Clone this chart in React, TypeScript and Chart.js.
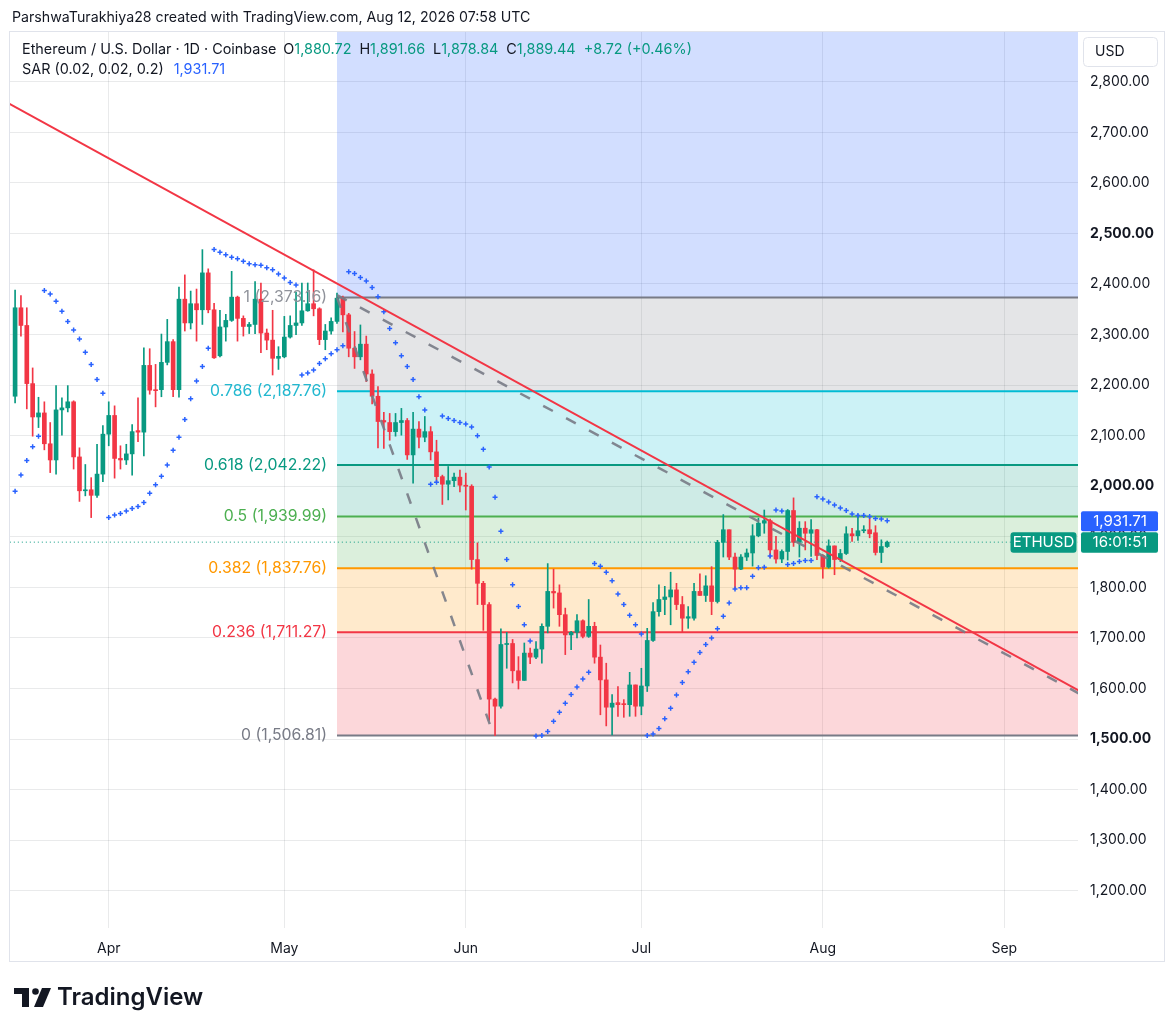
import React, { useEffect, useRef } from 'react';
import { Chart, registerables } from 'chart.js';

Chart.register(...registerables);

// ---------- data ----------
// day index 0 = 2026-03-16, one candle per day up to index 149 = 2026-08-12
const OPEN = [
  2178, 2353, 2318, 2203, 2137, 2145, 2084, 2052, 2151, 2155,
  2167, 2058, 1991, 1993, 1982, 2024, 2103, 2140, 2055, 2052,
  2064, 2110, 2107, 2239, 2191, 2191, 2245, 2286, 2191, 2370,
  2323, 2361, 2349, 2422, 2349, 2258, 2315, 2328, 2374, 2332,
  2316, 2320, 2370, 2303, 2289, 2253, 2256, 2295, 2318, 2323,
  2347, 2361, 2351, 2290, 2307, 2326, 2372, 2339, 2273, 2256,
  2281, 2222, 2178, 2130, 2126, 2108, 2126, 2130, 2062, 2113,
  2097, 2108, 2068, 2019, 2004, 2011, 2018, 2002, 2000, 1855,
  1808, 1766, 1579, 1565, 1687, 1689, 1635, 1616, 1670, 1662,
  1678, 1723, 1792, 1789, 1746, 1706, 1711, 1734, 1703, 1723,
  1662, 1617, 1563, 1572, 1570, 1568, 1607, 1565, 1605, 1695,
  1752, 1776, 1781, 1795, 1766, 1739, 1739, 1792, 1784, 1803,
  1772, 1889, 1914, 1860, 1836, 1860, 1868, 1902, 1927, 1932,
  1874, 1856, 1871, 1952, 1889, 1917, 1907, 1914, 1863, 1840,
  1882, 1855, 1867, 1906, 1902, 1912, 1914, 1908, 1869, 1880.72,
];
const HIGH = [
  2388, 2377, 2353, 2234, 2176, 2167, 2126, 2199, 2175, 2199,
  2169, 2076, 2043, 2017, 2083, 2120, 2167, 2159, 2080, 2083,
  2122, 2175, 2274, 2272, 2241, 2301, 2330, 2290, 2394, 2418,
  2386, 2390, 2468, 2430, 2362, 2348, 2340, 2425, 2376, 2337,
  2324, 2405, 2402, 2311, 2348, 2276, 2336, 2337, 2384, 2402,
  2402, 2428, 2353, 2320, 2333, 2382, 2376, 2342, 2306, 2319,
  2297, 2230, 2197, 2146, 2144, 2144, 2154, 2134, 2146, 2128,
  2138, 2118, 2091, 2022, 2039, 2026, 2032, 2026, 2003, 1888,
  1812, 1770, 1581, 1718, 1711, 1697, 1663, 1690, 1680, 1693,
  1728, 1847, 1836, 1805, 1759, 1713, 1746, 1736, 1776, 1731,
  1686, 1650, 1588, 1604, 1578, 1632, 1607, 1640, 1719, 1770,
  1805, 1802, 1830, 1808, 1782, 1762, 1808, 1827, 1823, 1841,
  1893, 1944, 1914, 1868, 1865, 1876, 1924, 1937, 1953, 1935,
  1901, 1874, 1954, 1977, 1930, 1930, 1934, 1915, 1865, 1894,
  1882, 1875, 1920, 1917, 1944, 1922, 1940, 1922, 1894, 1891.66,
];
const LOW = [
  2165, 2297, 2153, 2099, 2116, 2072, 2027, 2024, 2101, 2147,
  2034, 1970, 1981, 1938, 1978, 2009, 2080, 2016, 2034, 2043,
  2022, 2088, 2060, 2182, 2157, 2177, 2240, 2177, 2176, 2307,
  2311, 2287, 2320, 2343, 2253, 2256, 2287, 2326, 2287, 2297,
  2302, 2302, 2264, 2270, 2220, 2231, 2254, 2293, 2300, 2318,
  2346, 2337, 2280, 2270, 2301, 2322, 2305, 2256, 2233, 2250,
  2207, 2163, 2076, 2075, 2091, 2099, 2101, 2053, 2006, 2076,
  2088, 2052, 2009, 1964, 1973, 1999, 1989, 1953, 1836, 1766,
  1715, 1537, 1506.81, 1561, 1640, 1611, 1599, 1616, 1649, 1659,
  1650, 1710, 1759, 1723, 1667, 1677, 1700, 1700, 1701, 1650,
  1548, 1526, 1508, 1545, 1543, 1545, 1545, 1548, 1594, 1693,
  1743, 1746, 1726, 1756, 1711, 1719, 1735, 1784, 1772, 1746,
  1769, 1860, 1855, 1797, 1835, 1853, 1842, 1900, 1907, 1858,
  1848, 1849, 1854, 1881, 1860, 1874, 1861, 1855, 1818, 1838,
  1825, 1851, 1865, 1891, 1893, 1908, 1898, 1864, 1849, 1878.84,
];
const CLOSE = [
  2353, 2318, 2203, 2137, 2145, 2084, 2052, 2151, 2155, 2167,
  2058, 1991, 1993, 1982, 2024, 2103, 2140, 2055, 2052, 2064,
  2108, 2107, 2239, 2190, 2189, 2245, 2286, 2191, 2370, 2323,
  2361, 2349, 2422, 2349, 2254, 2315, 2328, 2374, 2332, 2316,
  2320, 2370, 2303, 2289, 2253, 2257, 2295, 2318, 2323, 2347,
  2361, 2351, 2290, 2307, 2326, 2372, 2339, 2273, 2256, 2281,
  2222, 2178, 2128, 2127, 2108, 2126, 2130, 2062, 2113, 2097,
  2108, 2068, 2019, 2004, 2011, 2018, 2002, 2000, 1855, 1808,
  1766, 1579, 1565, 1687, 1689, 1635, 1616, 1670, 1662, 1678,
  1723, 1792, 1789, 1746, 1706, 1711, 1734, 1703, 1723, 1662,
  1617, 1563, 1571, 1568, 1568, 1607, 1565, 1605, 1695, 1752,
  1776, 1781, 1795, 1766, 1739, 1742, 1792, 1784, 1803, 1772,
  1889, 1914, 1860, 1836, 1860, 1868, 1902, 1927, 1932, 1874,
  1856, 1871, 1952, 1889, 1917, 1907, 1914, 1863, 1840, 1882,
  1855, 1867, 1906, 1902, 1912, 1914, 1906, 1869, 1880.72, 1889.44,
];
// Parabolic SAR (0.02, 0.02, 0.2) dots, one per day
const SAR = [
  1990, 2022, 2051, 2078, 2099, 2387, 2380, 2366, 2346, 2326,
  2309, 2291, 2265, 2241, 2211, 2184, 1938, 1943, 1946, 1951,
  1956, 1960, 1968, 1986, 2003, 2020, 2042, 2071, 2097, 2132,
  2173, 2208, 2237, 2273, 2468, 2463, 2458, 2453, 2450, 2445,
  2440, 2438, 2437, 2432, 2428, 2420, 2412, 2403, 2398, 2220,
  2224, 2230, 2243, 2252, 2262, 2270, 2278, 2424, 2421, 2413,
  2406, 2393, 2375, 2345, 2312, 2284, 2258, 2237, 2211, 2177,
  2151, 2004, 2008, 2139, 2134, 2130, 2126, 2123, 2117, 2100,
  2073, 2038, 1978, 1911, 1855, 1805, 1762, 1726, 1694, 1506,
  1507, 1515, 1535, 1553, 1571, 1588, 1603, 1619, 1632, 1847,
  1842, 1830, 1813, 1787, 1766, 1745, 1726, 1708, 1507, 1510,
  1521, 1540, 1561, 1587, 1612, 1633, 1652, 1671, 1687, 1700,
  1718, 1743, 1769, 1797, 1799, 1799, 1822, 1839, 1840, 1862,
  1953, 1951, 1845, 1847, 1851, 1853, 1853, 1979, 1975, 1969,
  1963, 1957, 1952, 1945, 1942, 1942, 1940, 1936, 1935, 1931.71,
];

const MONTH_TICKS = [16, 46, 77, 107, 138, 169];
const MONTH_LABELS = ['Apr', 'May', 'Jun', 'Jul', 'Aug', 'Sep'];
const PRICE_TICKS = [1200, 1300, 1400, 1500, 1600, 1700, 1800, 1900, 2000, 2100, 2200, 2300, 2400, 2500, 2600, 2700, 2800];
const BOLD_TICKS = [1500, 2000, 2500];

// Fibonacci retracement drawn from the May 10 high (day 55) to the Jun 6 low (day 81.8)
const FIB_RATIOS = [1, 0.786, 0.618, 0.5, 0.382, 0.236, 0];
const FIB_PRICES = [2373.16, 2187.76, 2042.22, 1939.99, 1837.76, 1711.27, 1506.81];
const FIB_ANCHOR_X = [55, 81.8];
const FIB_LINE_COLORS = ['#787b86', '#00bcd4', '#089981', '#4caf50', '#ff9800', '#f23645', '#787b86'];
const FIB_LABEL_COLORS = ['#8f929a', '#22b8d0', '#089981', '#4caf50', '#ff9800', '#f23645', '#787b86'];
const FIB_FILL_COLORS = [
  'rgba(41, 98, 255, 0.21)',
  'rgba(120, 123, 134, 0.2)',
  'rgba(0, 188, 212, 0.2)',
  'rgba(8, 153, 129, 0.2)',
  'rgba(76, 175, 80, 0.2)',
  'rgba(255, 152, 0, 0.2)',
  'rgba(242, 54, 69, 0.2)',
];
const FIB_EXTEND_X = 190;

// trend lines (day index, price)
const RED_TREND_X = [-5, 185];
const RED_TREND_Y = [2782, 1575];
const GRAY_TREND_X = [55, 185];
const GRAY_TREND_Y = [2378, 1570];

const X_RANGE = [-0.87, 181.6];
const Y_RANGE = [1126.3, 2898.4];

const UP = '#089981';
const DOWN = '#f23645';
const SAR_COLOR = '#2962ff';
const TEXT = '#131722';
const GRID = 'rgba(42, 46, 57, 0.10)';
const FONT = "Inter, 'Noto Sans', 'DejaVu Sans', sans-serif";

const fmt = (v: number) =>
  v.toLocaleString('en-US', { minimumFractionDigits: 2, maximumFractionDigits: 2 });

function roundRect(ctx: CanvasRenderingContext2D, x: number, y: number, w: number, h: number, r: number) {
  ctx.beginPath();
  ctx.moveTo(x + r, y);
  ctx.lineTo(x + w - r, y);
  ctx.quadraticCurveTo(x + w, y, x + w, y + r);
  ctx.lineTo(x + w, y + h - r);
  ctx.quadraticCurveTo(x + w, y + h, x + w - r, y + h);
  ctx.lineTo(x + r, y + h);
  ctx.quadraticCurveTo(x, y + h, x, y + h - r);
  ctx.lineTo(x, y + r);
  ctx.quadraticCurveTo(x, y, x + r, y);
  ctx.closePath();
}

const overlayPlugin = {
  id: 'tvOverlay',
  afterDatasetsDraw(chart: any) {
    const ctx: CanvasRenderingContext2D = chart.ctx;
    const xs = chart.scales.x;
    const ys = chart.scales.y;
    ctx.save();
    ctx.font = `15.8px ${FONT}`;
    ctx.textAlign = 'right';
    ctx.textBaseline = 'middle';
    const lx = xs.getPixelForValue(FIB_ANCHOR_X[0]) - 10;
    FIB_RATIOS.forEach((r, k) => {
      ctx.fillStyle = FIB_LABEL_COLORS[k];
      ctx.fillText(`${r} (${fmt(FIB_PRICES[k])})`, lx, ys.getPixelForValue(FIB_PRICES[k]));
    });
    ctx.restore();
  },
  afterDraw(chart: any) {
    const ctx: CanvasRenderingContext2D = chart.ctx;
    const ys = chart.scales.y;
    const area = chart.chartArea;
    const n = CLOSE.length - 1;
    ctx.save();

    // frame
    ctx.strokeStyle = '#e0e3eb';
    ctx.lineWidth = 1;
    ctx.strokeRect(area.left - 0.5, area.top - 0.5, 1165 - area.left, 962 - area.top);

    // header
    ctx.textBaseline = 'middle';
    ctx.textAlign = 'left';
    ctx.font = `14.2px ${FONT}`;
    ctx.fillStyle = TEXT;
    ctx.fillText('ParshwaTurakhiya28 created with TradingView.com, Aug 12, 2026 07:58 UTC', 12, 18);

    ctx.font = `14.4px ${FONT}`;
    const change = CLOSE[n] - CLOSE[n - 1];
    const pct = (change / CLOSE[n - 1]) * 100;
    const parts: [string, string, number][] = [
      ['Ethereum / U.S. Dollar · 1D · Coinbase', TEXT, 7],
      ['O', TEXT, 0], [fmt(OPEN[n]), UP, 8],
      ['H', TEXT, 0], [fmt(HIGH[n]), UP, 8],
      ['L', TEXT, 0], [fmt(LOW[n]), UP, 8],
      ['C', TEXT, 0], [fmt(CLOSE[n]), UP, 8],
      [`+${change.toFixed(2)} (+${pct.toFixed(2)}%)`, UP, 0],
    ];
    let x = 22;
    parts.forEach(([t, c, gap]) => {
      ctx.fillStyle = c;
      ctx.fillText(t, x, 50);
      x += ctx.measureText(t).width + gap;
    });
    ctx.fillStyle = TEXT;
    const sarLabel = 'SAR (0.02, 0.02, 0.2)';
    ctx.fillText(sarLabel, 22, 70);
    ctx.fillStyle = SAR_COLOR;
    ctx.fillText(fmt(SAR[n]), 22 + ctx.measureText(sarLabel).width + 10, 70);

    // USD box
    ctx.fillStyle = '#ffffff';
    ctx.strokeStyle = '#e0e3eb';
    roundRect(ctx, 1083.5, 37.5, 74, 29, 4);
    ctx.fill();
    ctx.stroke();
    ctx.fillStyle = TEXT;
    ctx.font = `14px ${FONT}`;
    ctx.fillText('USD', 1095, 52);

    // last price label (green) + countdown
    const py = ys.getPixelForValue(CLOSE[n]);
    ctx.fillStyle = UP;
    roundRect(ctx, 1081, py - 10, 77, 20.5, 2);
    ctx.fill();
    roundRect(ctx, 1010.5, py - 10, 66, 20.5, 3);
    ctx.fill();
    ctx.fillStyle = '#ffffff';
    ctx.font = `15px ${FONT}`;
    ctx.textAlign = 'center';
    ctx.fillText('16:01:51', 1120, py + 0.5);
    ctx.fillText('ETHUSD', 1043.5, py + 0.5);

    // SAR label (blue)
    const sy = ys.getPixelForValue(SAR[n]);
    ctx.fillStyle = SAR_COLOR;
    roundRect(ctx, 1081, sy - 9.5, 77, 20, 2);
    ctx.fill();
    ctx.fillStyle = '#ffffff';
    ctx.fillText(fmt(SAR[n]), 1120, sy + 0.5);

    // TradingView logo
    ctx.fillStyle = TEXT;
    ctx.fillRect(14, 988, 15, 6);
    ctx.fillRect(22, 988, 7, 19);
    ctx.beginPath();
    ctx.arc(35.5, 991.5, 3.3, 0, Math.PI * 2);
    ctx.fill();
    ctx.beginPath();
    ctx.moveTo(42, 988);
    ctx.lineTo(51, 988);
    ctx.lineTo(43, 1007);
    ctx.lineTo(34, 1007);
    ctx.closePath();
    ctx.fill();
    ctx.textAlign = 'left';
    ctx.font = `600 24px ${FONT}`;
    ctx.fillText('TradingView', 57, 998);

    ctx.restore();
  },
};

export default function App() {
  const ref = useRef<HTMLCanvasElement>(null);

  useEffect(() => {
    const canvas = ref.current;
    if (!canvas) return;
    const colors = OPEN.map((o, i) => (CLOSE[i] >= o ? UP : DOWN));

    const fibDatasets = FIB_PRICES.map((p, k) => ({
      type: 'line' as const,
      label: `fib ${FIB_RATIOS[k]}`,
      data: [
        { x: FIB_ANCHOR_X[0], y: p },
        { x: FIB_EXTEND_X, y: p },
      ],
      borderColor: FIB_LINE_COLORS[k],
      borderWidth: 2,
      backgroundColor: FIB_FILL_COLORS[k],
      fill: k === 0 ? 'end' : '-1',
      pointRadius: 0,
      order: 10,
    }));

    const chart = new Chart(canvas, {
      type: 'bar',
      data: {
        datasets: [
          ...fibDatasets,
          {
            type: 'bar',
            label: 'wicks',
            data: OPEN.map((_, i) => ({ x: i, y: [LOW[i], HIGH[i]] })),
            backgroundColor: colors,
            barThickness: 1,
            grouped: false,
            minBarLength: 1,
            order: 4,
          },
          {
            type: 'bar',
            label: 'bodies',
            data: OPEN.map((o, i) => ({ x: i, y: [o, CLOSE[i]] })),
            backgroundColor: colors,
            barThickness: 4,
            grouped: false,
            minBarLength: 1,
            order: 3,
          },
          {
            type: 'line',
            label: 'SAR',
            data: SAR.map((v, i) => ({ x: i, y: v })),
            showLine: false,
            pointStyle: 'cross',
            pointRadius: 2.5,
            pointBorderWidth: 1.5,
            pointBorderColor: SAR_COLOR,
            pointBackgroundColor: SAR_COLOR,
            order: 2,
          },
          {
            type: 'line',
            label: 'last price',
            data: [
              { x: -5, y: CLOSE[CLOSE.length - 1] },
              { x: 185, y: CLOSE[CLOSE.length - 1] },
            ],
            borderColor: UP,
            borderWidth: 1,
            borderDash: [1, 3],
            pointRadius: 0,
            fill: false,
            order: 2,
          },
          {
            type: 'line',
            label: 'fib trend',
            data: FIB_ANCHOR_X.map((x, k) => ({ x, y: FIB_PRICES[k === 0 ? 0 : FIB_PRICES.length - 1] })),
            borderColor: 'rgba(120, 123, 134, 0.9)',
            borderWidth: 2.5,
            borderDash: [11, 15],
            pointRadius: 0,
            fill: false,
            order: 1,
          },
          {
            type: 'line',
            label: 'gray trend',
            data: GRAY_TREND_X.map((x, k) => ({ x, y: GRAY_TREND_Y[k] })),
            borderColor: 'rgba(120, 123, 134, 0.9)',
            borderWidth: 2.5,
            borderDash: [11, 15],
            pointRadius: 0,
            fill: false,
            order: 1,
          },
          {
            type: 'line',
            label: 'red trend',
            data: RED_TREND_X.map((x, k) => ({ x, y: RED_TREND_Y[k] })),
            borderColor: DOWN,
            borderWidth: 2,
            pointRadius: 0,
            fill: false,
            order: 0,
          },
        ] as any,
      },
      options: {
        responsive: false,
        maintainAspectRatio: false,
        animation: false,
        events: [],
        layout: { padding: { left: 10, top: 32, right: 0, bottom: 0 } },
        plugins: {
          legend: { display: false },
          tooltip: { enabled: false },
          filler: { drawTime: 'beforeDatasetsDraw' },
        } as any,
        scales: {
          x: {
            type: 'linear',
            min: X_RANGE[0],
            max: X_RANGE[1],
            offset: false,
            grid: { color: GRID, drawTicks: false, offset: false },
            border: { display: false },
            afterBuildTicks: (s: any) => {
              s.ticks = MONTH_TICKS.map((v) => ({ value: v }));
            },
            afterFit: (s: any) => {
              s.height = 106;
            },
            ticks: {
              autoSkip: false,
              maxRotation: 0,
              padding: 12,
              color: TEXT,
              font: { family: FONT, size: 14 },
              callback: (v: any) => {
                const k = MONTH_TICKS.indexOf(Number(v));
                return k >= 0 ? MONTH_LABELS[k] : '';
              },
            },
          },
          y: {
            type: 'linear',
            position: 'right',
            min: Y_RANGE[0],
            max: Y_RANGE[1],
            grid: { color: GRID, drawTicks: false },
            border: { display: false },
            afterBuildTicks: (s: any) => {
              s.ticks = PRICE_TICKS.map((v) => ({ value: v }));
            },
            afterFit: (s: any) => {
              s.width = 98;
            },
            ticks: {
              padding: 12,
              crossAlign: 'near',
              color: TEXT,
              font: (c: any) => ({
                family: FONT,
                size: 14,
                weight: c.tick && BOLD_TICKS.includes(c.tick.value) ? 'bold' : 'normal',
              }),
              callback: (v: any) => fmt(Number(v)),
            },
          },
        } as any,
      },
      plugins: [overlayPlugin],
    });

    return () => chart.destroy();
  }, []);

  return (
    <div style={{ position: 'absolute', left: 0, top: 0, width: 1176, height: 1034, background: '#ffffff' }}>
      <canvas ref={ref} width={1176} height={1034} style={{ display: 'block', width: 1176, height: 1034 }} />
    </div>
  );
}
